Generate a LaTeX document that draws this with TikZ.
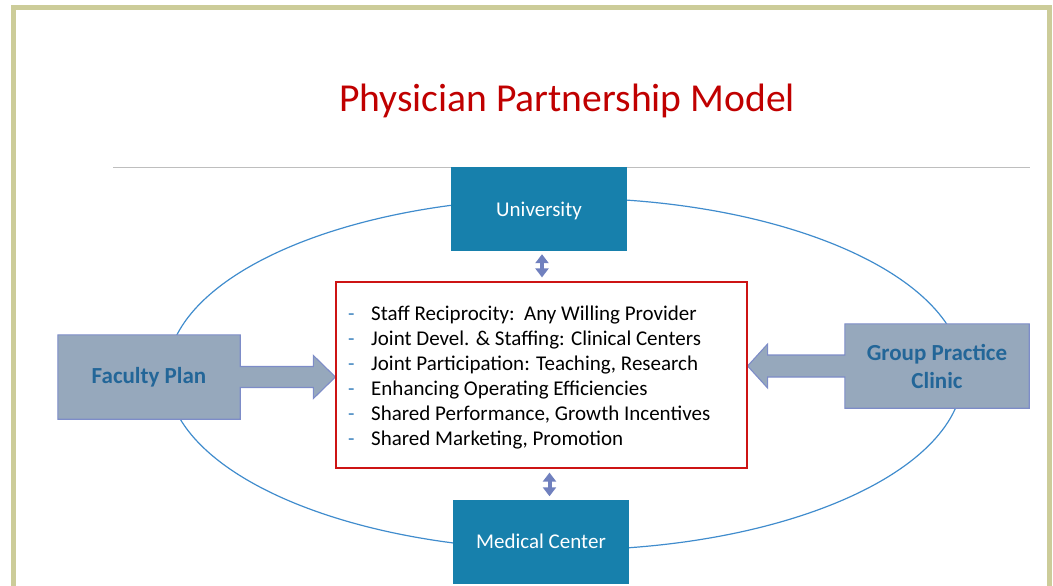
\documentclass[tikz,border=0pt]{standalone}
\usepackage{fontspec}
\setmainfont{Carlito}
\usetikzlibrary{arrows.meta,backgrounds}

\definecolor{frameolive}{RGB}{204,204,153}
\definecolor{titlered}{RGB}{192,0,0}
\definecolor{rulegray}{RGB}{190,190,190}
\definecolor{ringblue}{RGB}{64,140,205}
\definecolor{orgteal}{RGB}{23,128,172}
\definecolor{calloutfill}{RGB}{150,168,188}
\definecolor{calloutedge}{RGB}{125,140,200}
\definecolor{callouttext}{RGB}{35,102,152}
\definecolor{linkblue}{RGB}{112,128,190}
\definecolor{boxred}{RGB}{205,20,20}
\definecolor{dashblue}{RGB}{60,130,190}

\tikzset{
  orgbox/.style={fill=orgteal, text=white, inner sep=0pt, text depth=0pt,
    minimum width=176pt, minimum height=84pt, font=\fontsize{21}{24}\selectfont},
  planbox/.style={text=callouttext, inner sep=0pt, align=center,
    font=\bfseries\fontsize{23}{28}\selectfont},
  callout/.style={fill=calloutfill, draw=calloutedge, line width=1.1pt, line join=miter},
  link/.style={draw=linkblue, line width=4pt,
    {Triangle[width=13pt,length=9pt]}-{Triangle[width=13pt,length=9pt]}},
  item/.style={anchor=west, inner sep=0pt, text height=14pt, text depth=5pt,
    font=\fontsize{21}{24}\selectfont}
}

\begin{document}
\begin{tikzpicture}[x=1pt,y=-1pt]
\useasboundingbox (0,0) rectangle (1053,586);
\clip (0,0) rectangle (1053,586);

% slide frame, title and rule
\draw[frameolive, line width=5pt] (13.5,7.5) rectangle (1049.5,640);
\node[text=titlered, font=\fontsize{39.6}{44}\selectfont] (title) at (567,101) {Physician Partnership Model};
\draw[rulegray, line width=1pt] (113,167) -- (1030,167);

% ring behind everything
\begin{scope}[on background layer]
\draw[ringblue, line width=1.2pt] (565,374) ellipse [x radius=398, y radius=176];
\end{scope}

\node[orgbox] (uni) at (539,209) {University};
\node[orgbox] (med) at (541,541.5) {Medical Center};

% center box with the list
\node[draw=boxred, line width=1.2pt, minimum width=411pt, minimum height=186pt, inner sep=0pt] (list) at (541.5,375) {};
\foreach \txt [count=\i] in {{Staff Reciprocity:\ \ Any Willing Provider},
    {Joint Devel. \& Staffing: Clinical Centers},
    {Joint Participation: Teaching, Research},
    {Enhancing Operating Efficiencies},
    {Shared Performance, Growth Incentives},
    {Shared Marketing, Promotion}}
  \node[item] (item\i) at (348,291+25*\i) {\makebox[23pt][l]{\textcolor{dashblue}{-}}\txt};

% side plans
\node[planbox, minimum width=182pt, minimum height=84pt] (fac) at (149,377) {Faculty Plan};
\node[planbox, minimum width=184pt, minimum height=84pt] (gpc) at (937,366) {Group Practice\\Clinic};
\coordinate (facTip) at (list.west |- fac.east);
\coordinate (gpcTip) at (list.east |- gpc.west);

\begin{scope}[on background layer]
\draw[callout] (fac.north west) -- (fac.north east) -- ([yshift=10.5pt]fac.east)
  -- ([xshift=-22pt,yshift=10.5pt]facTip) -- ([xshift=-22pt,yshift=21.5pt]facTip)
  -- (facTip) -- ([xshift=-22pt,yshift=-21.5pt]facTip) -- ([xshift=-22pt,yshift=-10.5pt]facTip)
  -- ([yshift=-10.5pt]fac.east) -- (fac.south east) -- (fac.south west) -- cycle;
\draw[callout] (gpc.north east) -- (gpc.north west) -- ([yshift=11pt]gpc.west)
  -- ([xshift=20pt,yshift=11pt]gpcTip) -- ([xshift=20pt,yshift=22pt]gpcTip)
  -- (gpcTip) -- ([xshift=20pt,yshift=-22pt]gpcTip) -- ([xshift=20pt,yshift=-11pt]gpcTip)
  -- ([yshift=-11pt]gpc.west) -- (gpc.south west) -- (gpc.south east) -- cycle;
\end{scope}

% links to university and medical center
\draw[link, shorten <=3pt, shorten >=4pt] ([xshift=3pt]uni.south) -- ([xshift=3pt]uni.south |- list.north);
\draw[link, shorten <=4pt, shorten >=3pt] ([xshift=8pt]list.south) -- ([xshift=8pt]list.south |- med.north);

\end{tikzpicture}
\end{document}
